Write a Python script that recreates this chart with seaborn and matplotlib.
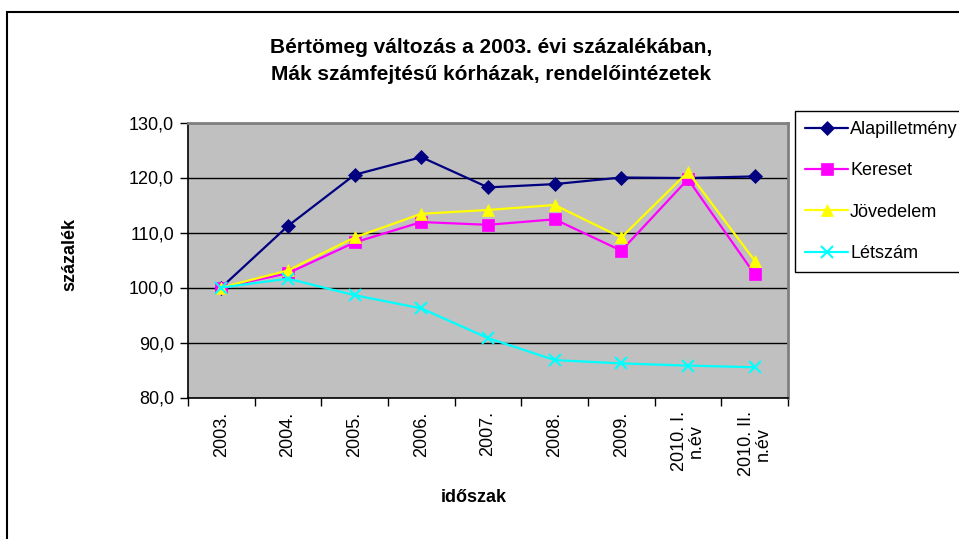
import matplotlib
matplotlib.use("Agg")
import matplotlib.pyplot as plt
import seaborn as sns
import numpy as np
from matplotlib.patches import Rectangle

# data
periods = ["2003.", "2004.", "2005.", "2006.", "2007.", "2008.", "2009.",
           "2010. I.\nn.év", "2010. II.\nn.év"]
alapilletmeny = [100.0, 111.2, 120.5, 123.7, 118.2, 118.8, 120.0, 119.9, 120.2]
kereset = [100.0, 102.6, 108.2, 111.9, 111.4, 112.4, 106.7, 119.7, 102.4]
jovedelem = [100.0, 103.1, 109.1, 113.4, 114.1, 115.0, 109.1, 121.0, 104.9]
letszam = [100.0, 101.6, 98.6, 96.2, 90.8, 86.8, 86.2, 85.8, 85.5]

series_names = ["Alapilletmény", "Kereset", "Jövedelem", "Létszám"]
series_values = [alapilletmeny, kereset, jovedelem, letszam]
colors = ["#000080", "#FF00FF", "#FFFF00", "#00FFFF"]
markers = ["D", "s", "^", "x"]
msizes = [7, 8, 9, 9]

sns.set_style("white")
plt.rcParams["font.family"] = ["Liberation Sans", "DejaVu Sans"]
plt.rcParams["text.color"] = "black"
plt.rcParams["xtick.color"] = "black"
plt.rcParams["ytick.color"] = "black"

fig = plt.figure(figsize=(9.59, 5.39), dpi=100)
ax = fig.add_axes([188 / 959, 1 - 397.5 / 539, 600 / 959, 275 / 539])
ax.set_facecolor("#C0C0C0")

x = np.arange(len(periods))
for name, vals, c, m, ms in zip(series_names, series_values, colors, markers, msizes):
    sns.lineplot(x=x, y=vals, ax=ax, color=c, marker=m, markersize=ms,
                 markeredgecolor=c, markeredgewidth=1.5 if m == "x" else 0.5,
                 linewidth=1.6, label=name)

ax.set_xlim(-0.5, len(periods) - 0.5)
ax.set_ylim(80, 130)
ax.set_yticks(np.arange(80, 131, 10))
ax.set_yticklabels([f"{v:.1f}".replace(".", ",") for v in np.arange(80, 131, 10)],
                   fontsize=13)
ax.yaxis.grid(True, color="black", linewidth=1)
ax.set_axisbelow(True)

# category boundaries as ticks, labels in the middle
ax.set_xticks(np.arange(-0.5, len(periods), 1))
ax.set_xticklabels([])
ax.set_xticks(x, minor=True)
ax.set_xticklabels(periods, minor=True, rotation=90, fontsize=13,
                   va="top", ha="center", linespacing=0.95)
ax.tick_params(axis="x", which="major", direction="out", length=6, width=1,
               color="black", bottom=True)
ax.tick_params(axis="x", which="minor", length=0, pad=10)
ax.tick_params(axis="y", direction="out", length=6, width=1, color="black",
               left=True, pad=4)

for s in ["left", "bottom"]:
    ax.spines[s].set_color("black")
    ax.spines[s].set_linewidth(1.2)
for s in ["top", "right"]:
    ax.spines[s].set_color("#808080")
    ax.spines[s].set_linewidth(2)

ax.set_xlabel("")
ax.set_ylabel("")
fig.text(474 / 959, 1 - 497 / 539, "időszak", fontsize=13, fontweight="bold",
         ha="center", va="center")
fig.text(70 / 959, 1 - 255 / 539, "százalék", fontsize=13, fontweight="bold",
         ha="center", va="center", rotation=90)

fig.text(491 / 959, 1 - 61 / 539,
         "Bértömeg változás a 2003. évi százalékában,\nMák számfejtésű kórházak, rendelőintézetek",
         fontsize=15, fontweight="bold", ha="center", va="center", linespacing=1.55)

leg = ax.legend(loc="upper left", bbox_to_anchor=(795 / 959, 1 - 111 / 539),
                bbox_transform=fig.transFigure, fontsize=13, frameon=True,
                fancybox=False, edgecolor="black", framealpha=1,
                labelspacing=1.35, handlelength=2.4, handletextpad=0.1,
                borderpad=0.55, borderaxespad=0, numpoints=1)
leg.get_frame().set_linewidth(1)

# outer chart border (only left/top visible in the reference)
fig.patches.append(Rectangle((7 / 959, -0.1), 1.2, 1 - 12 / 539 + 0.1,
                             transform=fig.transFigure, fill=False,
                             edgecolor="black", linewidth=1.5))

fig.savefig("out.png", dpi=100)
